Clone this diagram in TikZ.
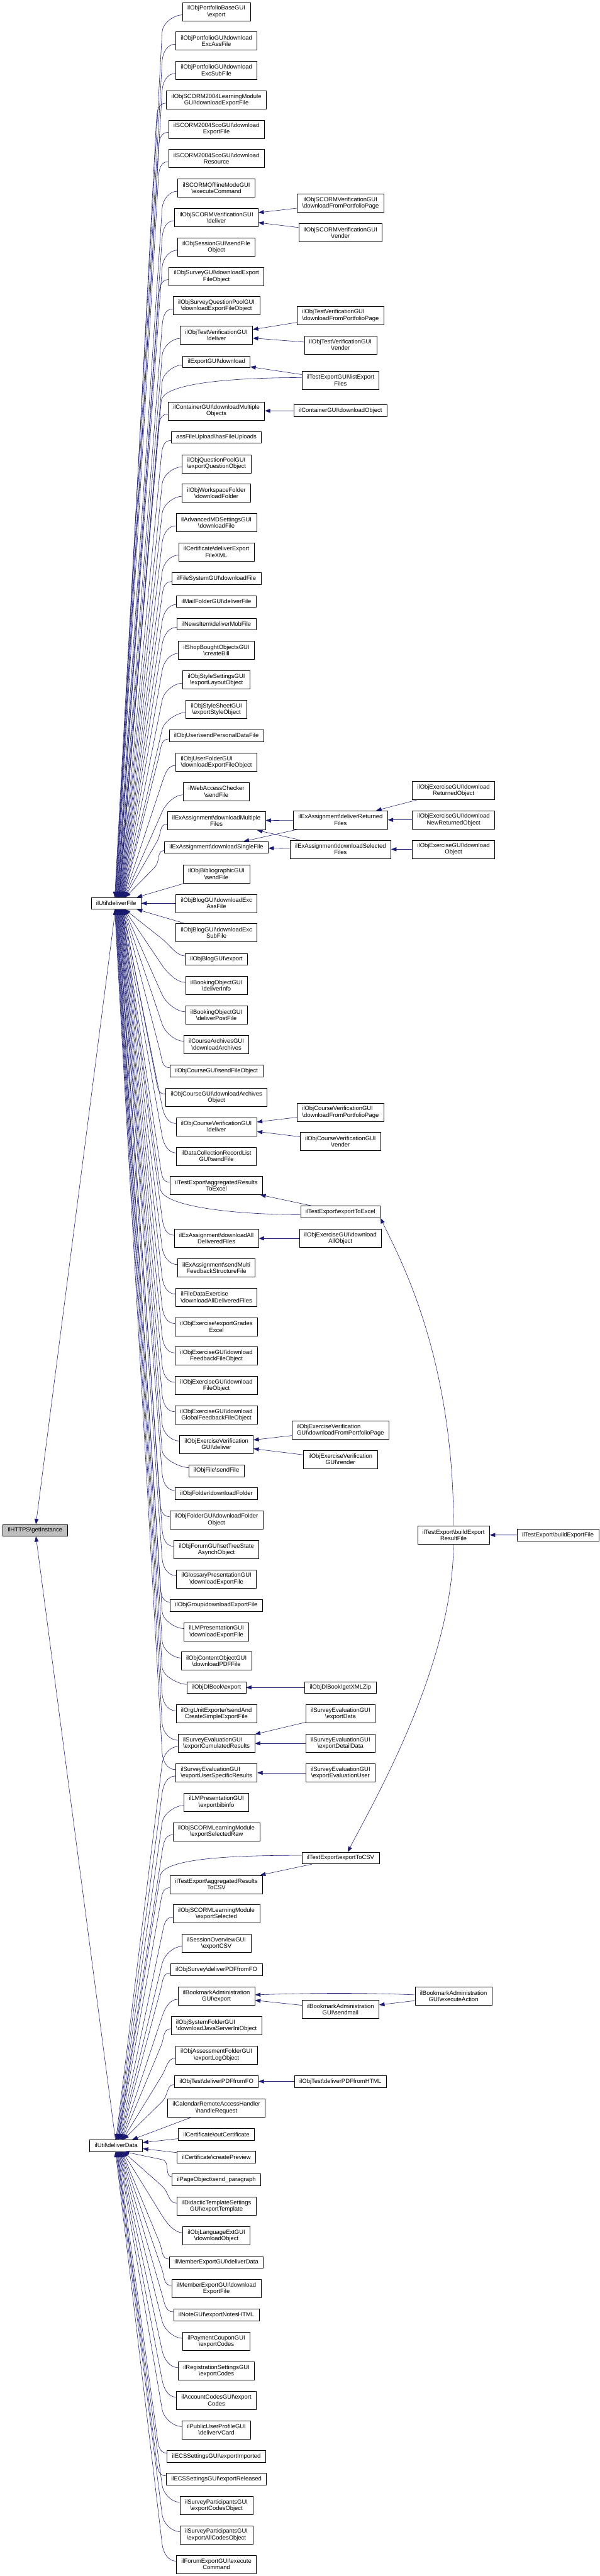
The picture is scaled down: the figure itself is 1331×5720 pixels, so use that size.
\documentclass[tikz,border=0pt]{standalone}
\usepackage{fontspec}
\setmainfont{Liberation Sans}
\usepackage{tikz}
\usetikzlibrary{arrows.meta, calc}

\definecolor{edgeblue}{HTML}{191970}
\definecolor{rootgray}{HTML}{BFBFBF}
\newcommand{\bks}{\textbackslash}

\tikzset{
  fn/.style={draw=black, line width=0.9pt, fill=white, align=center,
    font=\fontsize{13.2}{14.3}\selectfont, inner xsep=11pt, inner ysep=4pt,
    minimum height=26pt},
  two/.style={minimum height=40.5pt},
  lft/.style={align=left},
  call/.style={draw=edgeblue, line width=0.8pt, -{Triangle[length=12pt,width=9pt]}}
}

\begin{document}
\begin{tikzpicture}[x=1pt,y=-1pt]
        \useasboundingbox (0,0) rectangle (1331,5720);

        % ==========================================
        % Root and ilUtil
        % ==========================================
        \node[fn, fill=rootgray] (root) at (78,3398) {ilHTTPS\bks getInstance};
        \node[fn] (dFile) at (258,2005.8) {ilUtil\bks deliverFile};
        \node[fn] (dData) at (258,4764.2) {ilUtil\bks deliverData};

        % ==========================================
        % Direct callers of ilUtil
        % ==========================================
        \node[fn,two] (pfBaseExport) at (480.5,26) {ilObjPortfolioBaseGUI\\\bks export};
        \node[fn,two] (pfExcAss) at (480.5,91) {ilObjPortfolioGUI\bks download\\ExcAssFile};
        \node[fn,two] (pfExcSub) at (480.5,156) {ilObjPortfolioGUI\bks download\\ExcSubFile};
        \node[fn,two] (scorm04LmExport) at (480.5,221.8) {ilObjSCORM2004LearningModule\\GUI\bks downloadExportFile};
        \node[fn,two] (scoExportFile) at (480.5,286.8) {ilSCORM2004ScoGUI\bks download\\ExportFile};
        \node[fn,two] (scoResource) at (480.5,352) {ilSCORM2004ScoGUI\bks download\\Resource};
        \node[fn,two] (scormOffline) at (480.5,417.5) {ilSCORMOfflineModeGUI\\\bks executeCommand};
        \node[fn,two] (scormVerDeliver) at (480.5,483) {ilObjSCORMVerificationGUI\\\bks deliver};
        \node[fn,two] (sessSendFile) at (480.5,548.5) {ilObjSessionGUI\bks sendFile\\Object};
        \node[fn,two] (svyExportFile) at (480.5,613.8) {ilObjSurveyGUI\bks downloadExport\\FileObject};
        \node[fn,two] (spoolExportFile) at (480.5,679) {ilObjSurveyQuestionPoolGUI\\\bks downloadExportFileObject};
        \node[fn,two] (tstVerDeliver) at (480.5,744.5) {ilObjTestVerificationGUI\\\bks deliver};
        \node[fn] (expDownload) at (480.5,803.3) {ilExportGUI\bks download};
        \node[fn,two] (contDownloadMulti) at (480.5,912.5) {ilContainerGUI\bks downloadMultiple\\Objects};
        \node[fn] (assHasUploads) at (480.5,971) {assFileUpload\bks hasFileUploads};
        \node[fn,two] (qplExportQuestion) at (480.5,1029.7) {ilObjQuestionPoolGUI\\\bks exportQuestionObject};
        \node[fn,two] (wspDownloadFolder) at (480.5,1095) {ilObjWorkspaceFolder\\\bks downloadFolder};
        \node[fn,two] (amdDownloadFile) at (480.5,1160.5) {ilAdvancedMDSettingsGUI\\\bks downloadFile};
        \node[fn,two] (certExportXml) at (480.5,1225.7) {ilCertificate\bks deliverExport\\FileXML};
        \node[fn] (fsDownloadFile) at (480.5,1284.3) {ilFileSystemGUI\bks downloadFile};
        \node[fn] (mailDeliverFile) at (480.5,1335.3) {ilMailFolderGUI\bks deliverFile};
        \node[fn] (newsMobFile) at (480.5,1386) {ilNewsItem\bks deliverMobFile};
        \node[fn,two] (shopCreateBill) at (480.5,1444) {ilShopBoughtObjectsGUI\\\bks createBill};
        \node[fn,two] (styleLayout) at (480.5,1509.7) {ilObjStyleSettingsGUI\\\bks exportLayoutObject};
        \node[fn,two] (styleSheet) at (480.5,1575) {ilObjStyleSheetGUI\\\bks exportStyleObject};
        \node[fn] (userPersonalData) at (480.5,1633.7) {ilObjUser\bks sendPersonalDataFile};
        \node[fn,two,lft] (usrfExportFile) at (480.5,1692.5) {ilObjUserFolderGUI\\\bks downloadExportFileObject};
        \node[fn,two] (wacSendFile) at (480.5,1757.7) {ilWebAccessChecker\\\bks sendFile};
        \node[fn,two] (exaDownloadMulti) at (480.5,1822.8) {ilExAssignment\bks downloadMultiple\\Files};
        \node[fn] (exaDownloadSingle) at (480.5,1881.7) {ilExAssignment\bks downloadSingleFile};
        \node[fn,two] (biblSendFile) at (480.5,1940.5) {ilObjBibliographicGUI\\\bks sendFile};
        \node[fn,two] (blogExcAss) at (480.5,2005.8) {ilObjBlogGUI\bks downloadExc\\AssFile};
        \node[fn,two] (blogExcSub) at (480.5,2071) {ilObjBlogGUI\bks downloadExc\\SubFile};
        \node[fn] (blogExport) at (480.5,2129.8) {ilObjBlogGUI\bks export};
        \node[fn,two] (bookDeliverInfo) at (480.5,2188.5) {ilBookingObjectGUI\\\bks deliverInfo};
        \node[fn,two] (bookPostFile) at (480.5,2253.8) {ilBookingObjectGUI\\\bks deliverPostFile};
        \node[fn,two] (crsArchives) at (480.5,2319) {ilCourseArchivesGUI\\\bks downloadArchives};
        \node[fn] (crsSendFile) at (480.5,2377.8) {ilObjCourseGUI\bks sendFileObject};
        \node[fn,two] (crsDownloadArchives) at (480.5,2436.5) {ilObjCourseGUI\bks downloadArchives\\Object};
        \node[fn,two] (crsVerDeliver) at (480.5,2501.7) {ilObjCourseVerificationGUI\\\bks deliver};
        \node[fn,two] (dclSendFile) at (480.5,2567.2) {ilDataCollectionRecordList\\GUI\bks sendFile};
        \node[fn,two] (tstAggrExcel) at (480.5,2632.5) {ilTestExport\bks aggregatedResults\\ToExcel};
        \node[fn,two] (exaDownloadAll) at (480.5,2749.8) {ilExAssignment\bks downloadAll\\DeliveredFiles};
        \node[fn,two] (exaMultiFeedback) at (480.5,2815) {ilExAssignment\bks sendMulti\\FeedbackStructureFile};
        \node[fn,two,lft] (excDownloadAll) at (480.5,2880.5) {ilFileDataExercise\\\bks downloadAllDeliveredFiles};
        \node[fn,two] (excGradesExcel) at (480.5,2946) {ilObjExercise\bks exportGrades\\Excel};
        \node[fn,two] (excFeedbackFile) at (480.5,3011.2) {ilObjExerciseGUI\bks download\\FeedbackFileObject};
        \node[fn,two] (excFileObject) at (480.5,3076.5) {ilObjExerciseGUI\bks download\\FileObject};
        \node[fn,two] (excGlobalFeedback) at (480.5,3141.8) {ilObjExerciseGUI\bks download\\GlobalFeedbackFileObject};
        \node[fn,two] (excVerDeliver) at (480.5,3206.8) {ilObjExerciseVerification\\GUI\bks deliver};
        \node[fn] (fileSendFile) at (480.5,3265.7) {ilObjFile\bks sendFile};
        \node[fn] (fldDownloadFolder) at (480.5,3316.5) {ilObjFolder\bks downloadFolder};
        \node[fn,two] (fldGuiDownload) at (480.5,3374.8) {ilObjFolderGUI\bks downloadFolder\\Object};
        \node[fn,two] (frmTreeState) at (480.5,3440.5) {ilObjForumGUI\bks setTreeState\\AsynchObject};
        \node[fn,two] (gloExportFile) at (480.5,3505.8) {ilGlossaryPresentationGUI\\\bks downloadExportFile};
        \node[fn] (grpExportFile) at (480.5,3564.5) {ilObjGroup\bks downloadExportFile};
        \node[fn,two] (lmExportFile) at (480.5,3623.2) {ilLMPresentationGUI\\\bks downloadExportFile};
        \node[fn,two] (lmPdfFile) at (480.5,3688.5) {ilObjContentObjectGUI\\\bks downloadPDFFile};
        \node[fn] (dlbExport) at (480.5,3747) {ilObjDlBook\bks export};
        \node[fn,two] (orguExport) at (480.5,3805.8) {ilOrgUnitExporter\bks sendAnd\\CreateSimpleExportFile};
        \node[fn,two,lft] (svyCumulated) at (480.5,3871.2) {ilSurveyEvaluationGUI\\\bks exportCumulatedResults};
        \node[fn,two,lft] (svyUserSpecific) at (480.5,3936.5) {ilSurveyEvaluationGUI\\\bks exportUserSpecificResults};
        \node[fn,two] (lmBibinfo) at (480.5,4001.8) {ilLMPresentationGUI\\\bks exportbibinfo};
        \node[fn,two] (scormSelectedRaw) at (480.5,4067) {ilObjSCORMLearningModule\\\bks exportSelectedRaw};
        \node[fn,two] (tstAggrCsv) at (480.5,4184.5) {ilTestExport\bks aggregatedResults\\ToCSV};
        \node[fn,two] (scormSelected) at (480.5,4249.8) {ilObjSCORMLearningModule\\\bks exportSelected};
        \node[fn,two] (sessExportCsv) at (480.5,4315) {ilSessionOverviewGUI\\\bks exportCSV};
        \node[fn] (svyPdf) at (480.5,4373.8) {ilObjSurvey\bks deliverPDFfromFO};
        \node[fn,two] (bmExport) at (480.5,4432.5) {ilBookmarkAdministration\\GUI\bks export};
        \node[fn,two,lft] (sysJavaIni) at (480.5,4497.8) {ilObjSystemFolderGUI\\\bks downloadJavaServerIniObject};
        \node[fn,two] (tafLog) at (480.5,4563) {ilObjAssessmentFolderGUI\\\bks exportLogObject};
        \node[fn] (tstPdf) at (480.5,4621.7) {ilObjTest\bks deliverPDFfromFO};
        \node[fn,two] (calHandle) at (480.5,4680.5) {ilCalendarRemoteAccessHandler\\\bks handleRequest};
        \node[fn] (certOut) at (480.5,4739.2) {ilCertificate\bks outCertificate};
        \node[fn] (certPreview) at (480.5,4790) {ilCertificate\bks createPreview};
        \node[fn] (pgSendPara) at (480.5,4840.3) {ilPageObject\bks send\_paragraph};
        \node[fn,two] (dtplExport) at (480.5,4899.2) {ilDidacticTemplateSettings\\GUI\bks exportTemplate};
        \node[fn,two] (lngDownload) at (480.5,4964.7) {ilObjLanguageExtGUI\\\bks downloadObject};
        \node[fn] (memDeliverData) at (480.5,5023.3) {ilMemberExportGUI\bks deliverData};
        \node[fn,two] (memExportFile) at (480.5,5082) {ilMemberExportGUI\bks download\\ExportFile};
        \node[fn] (noteExport) at (480.5,5140.5) {ilNoteGUI\bks exportNotesHTML};
        \node[fn,two] (cpnExport) at (480.5,5199.2) {ilPaymentCouponGUI\\\bks exportCodes};
        \node[fn,two] (regExport) at (480.5,5264.3) {ilRegistrationSettingsGUI\\\bks exportCodes};
        \node[fn,two] (accExport) at (480.5,5329.8) {ilAccountCodesGUI\bks export\\Codes};
        \node[fn,two] (pubVCard) at (480.5,5395.2) {ilPublicUserProfileGUI\\\bks deliverVCard};
        \node[fn] (ecsImported) at (480.5,5454) {ilECSSettingsGUI\bks exportImported};
        \node[fn] (ecsReleased) at (480.5,5504.7) {ilECSSettingsGUI\bks exportReleased};
        \node[fn,two] (svyCodes) at (480.5,5563.2) {ilSurveyParticipantsGUI\\\bks exportCodesObject};
        \node[fn,two] (svyAllCodes) at (480.5,5628.5) {ilSurveyParticipantsGUI\\\bks exportAllCodesObject};
        \node[fn,two] (frmExport) at (480.5,5694) {ilForumExportGUI\bks execute\\Command};

        % ==========================================
        % Second level callers
        % ==========================================
        \node[fn,two] (scormVerDfpp) at (756,451) {ilObjSCORMVerificationGUI\\\bks downloadFromPortfolioPage};
        \node[fn,two] (scormVerRender) at (756,516.5) {ilObjSCORMVerificationGUI\\\bks render};
        \node[fn,two,lft] (tstVerDfpp) at (756,700.5) {ilObjTestVerificationGUI\\\bks downloadFromPortfolioPage};
        \node[fn,two] (tstVerRender) at (756,765.8) {ilObjTestVerificationGUI\\\bks render};
        \node[fn,two] (tstExpList) at (756,844.5) {ilTestExportGUI\bks listExport\\Files};
        \node[fn] (contDownloadObj) at (756,912) {ilContainerGUI\bks downloadObject};
        \node[fn,two] (exaDeliverReturned) at (756,1820.5) {ilExAssignment\bks deliverReturned\\Files};
        \node[fn,two] (exaDownloadSelected) at (756,1885.8) {ilExAssignment\bks downloadSelected\\Files};
        \node[fn,two,lft] (crsVerDfpp) at (756,2469.8) {ilObjCourseVerificationGUI\\\bks downloadFromPortfolioPage};
        \node[fn,two] (crsVerRender) at (756,2535) {ilObjCourseVerificationGUI\\\bks render};
        \node[fn] (tstToExcel) at (756,2691) {ilTestExport\bks exportToExcel};
        \node[fn,two] (excDownloadAllObj) at (756,2749.8) {ilObjExerciseGUI\bks download\\AllObject};
        \node[fn,two,lft] (excVerDfpp) at (756,3175.2) {ilObjExerciseVerification\\GUI\bks downloadFromPortfolioPage};
        \node[fn,two] (excVerRender) at (756,3240.5) {ilObjExerciseVerification\\GUI\bks render};
        \node[fn] (dlbXmlZip) at (756,3747) {ilObjDlBook\bks getXMLZip};
        \node[fn,two] (svyExportData) at (756,3805.8) {ilSurveyEvaluationGUI\\\bks exportData};
        \node[fn,two] (svyDetail) at (756,3871.2) {ilSurveyEvaluationGUI\\\bks exportDetailData};
        \node[fn,two] (svyEvalUser) at (756,3936.5) {ilSurveyEvaluationGUI\\\bks exportEvaluationUser};
        \node[fn] (tstToCsv) at (756,4125.8) {ilTestExport\bks exportToCSV};
        \node[fn,two] (bmSendmail) at (756,4461.8) {ilBookmarkAdministration\\GUI\bks sendmail};
        \node[fn] (tstPdfHtml) at (756,4621.7) {ilObjTest\bks deliverPDFfromHTML};

        % ==========================================
        % Third and fourth level callers
        % ==========================================
        \node[fn,two] (excReturned) at (1007,1755) {ilObjExerciseGUI\bks download\\ReturnedObject};
        \node[fn,two] (excNewReturned) at (1007,1820.5) {ilObjExerciseGUI\bks download\\NewReturnedObject};
        \node[fn,two] (excDownloadObj) at (1007,1885.8) {ilObjExerciseGUI\bks download\\Object};
        \node[fn,two] (tstBuildResult) at (1007,3408.5) {ilTestExport\bks buildExport\\ResultFile};
        \node[fn,two] (bmExecute) at (1007,4432.5) {ilBookmarkAdministration\\GUI\bks executeAction};
        \node[fn] (tstBuildFile) at (1239,3408.3) {ilTestExport\bks buildExportFile};

        % ==========================================
        % Calls into ilUtil::deliverFile
        % ==========================================
        \foreach \nm [count=\i] in {pfBaseExport,pfExcAss,pfExcSub,scorm04LmExport,scoExportFile,
            scoResource,scormOffline,scormVerDeliver,sessSendFile,svyExportFile,spoolExportFile,
            tstVerDeliver,expDownload,contDownloadMulti,assHasUploads,qplExportQuestion,
            wspDownloadFolder,amdDownloadFile,certExportXml,fsDownloadFile,mailDeliverFile,
            newsMobFile,shopCreateBill,styleLayout,styleSheet,userPersonalData,usrfExportFile,
            wacSendFile,exaDownloadMulti,exaDownloadSingle} {
            \path let \p1=(\nm.west), \n1={min(\x1-22,360)} in
                (\x1,{\y1-7pt}) coordinate (st) (\n1,{\y1-45pt}) coordinate (hk);
            \coordinate (tg) at ($(dFile.north)+(\i*0.8-4,0)$);
            \draw[call] (st) .. controls +(-18,0) and ($(hk)!-20pt!(tg)$) .. (hk) -- (tg);
        }
        \foreach \nm [count=\i] in {blogExport,bookDeliverInfo,bookPostFile,crsArchives,crsSendFile,
            crsDownloadArchives,crsVerDeliver,dclSendFile,tstAggrExcel,exaDownloadAll,
            exaMultiFeedback,excDownloadAll,excGradesExcel,excFeedbackFile,excFileObject,
            excGlobalFeedback,excVerDeliver,fileSendFile,fldDownloadFolder,fldGuiDownload,
            frmTreeState,gloExportFile,grpExportFile,lmExportFile,lmPdfFile,dlbExport,orguExport,
            svyCumulated,svyUserSpecific} {
            \path let \p1=(\nm.west), \n1={min(\x1-22,360)} in
                (\x1,{\y1+7pt}) coordinate (st) (\n1,{\y1+45pt}) coordinate (hk);
            \coordinate (tg) at ($(dFile.south)+(20-\i*0.8,0)$);
            \draw[call] (st) .. controls +(-18,0) and ($(hk)!-20pt!(tg)$) .. (hk) -- (tg);
        }
        \foreach \nm in {biblSendFile,blogExcAss,blogExcSub}
            \draw[call] (\nm) -- (dFile);

        % listExportFiles and exportToExcel reach deliverFile directly
        \coordinate (lfHook) at (358,890);
        \coordinate (lfTarget) at ($(dFile.north)+(6.8,0)$);
        \draw[call] ($(tstExpList.west)+(0,-6)$) .. controls +(-150,0) and ($(lfHook)!-40pt!(lfTarget)$) .. (lfHook) -- (lfTarget);
        \coordinate (xlHook) at (356,2640);
        \coordinate (xlTarget) at ($(dFile.south)+(12.4,0)$);
        \draw[call] ($(tstToExcel.west)+(0,6)$) .. controls +(-145,0) and ($(xlHook)!-40pt!(xlTarget)$) .. (xlHook) -- (xlTarget);

        % ==========================================
        % Calls into ilUtil::deliverData
        % ==========================================
        \foreach \nm [count=\i] in {svyCumulated,svyUserSpecific,lmBibinfo,scormSelectedRaw,
            tstAggrCsv,scormSelected,sessExportCsv,svyPdf,bmExport,sysJavaIni,tafLog,tstPdf} {
            \path let \p1=(\nm.west), \n1={min(\x1-22,360)} in
                (\x1,{\y1-7pt}) coordinate (st) (\n1,{\y1-45pt}) coordinate (hk);
            \coordinate (tg) at ($(dData.north)+(\i*1.5-2,0)$);
            \draw[call] (st) .. controls +(-18,0) and ($(hk)!-20pt!(tg)$) .. (hk) -- (tg);
        }
        \foreach \nm [count=\i] in {pgSendPara,dtplExport,lngDownload,memDeliverData,memExportFile,
            noteExport,cpnExport,regExport,accExport,pubVCard,ecsImported,ecsReleased,svyCodes,
            svyAllCodes,frmExport} {
            \path let \p1=(\nm.west), \n1={min(\x1-22,360)} in
                (\x1,{\y1+7pt}) coordinate (st) (\n1,{\y1+45pt}) coordinate (hk);
            \coordinate (tg) at ($(dData.south)+(18-\i*1.3,0)$);
            \draw[call] (st) .. controls +(-18,0) and ($(hk)!-20pt!(tg)$) .. (hk) -- (tg);
        }
        \foreach \nm in {calHandle,certOut,certPreview}
            \draw[call] (\nm) -- (dData);

        % exportToCSV reaches deliverData directly
        \coordinate (csvHook) at (356,4165);
        \coordinate (csvTarget) at ($(dData.north)+(4.75,0)$);
        \draw[call] ($(tstToCsv.west)+(0,-6)$) .. controls +(-148,0) and ($(csvHook)!-40pt!(csvTarget)$) .. (csvHook) -- (csvTarget);

        % ilUtil into root
        \draw[call] (dFile) -- (root);
        \draw[call] (dData) -- (root);

        % ==========================================
        % Calls between callers
        % ==========================================
        \foreach \src/\dst in {scormVerDfpp/scormVerDeliver, scormVerRender/scormVerDeliver,
            tstVerDfpp/tstVerDeliver, tstVerRender/tstVerDeliver, tstExpList/expDownload,
            contDownloadObj/contDownloadMulti, exaDeliverReturned/exaDownloadMulti,
            exaDeliverReturned/exaDownloadSingle, exaDownloadSelected/exaDownloadSingle,
            exaDownloadSelected/exaDownloadMulti, excReturned/exaDeliverReturned,
            excNewReturned/exaDeliverReturned, excDownloadObj/exaDownloadSelected,
            crsVerDfpp/crsVerDeliver, crsVerRender/crsVerDeliver, tstToExcel/tstAggrExcel,
            excDownloadAllObj/exaDownloadAll, excVerDfpp/excVerDeliver, excVerRender/excVerDeliver,
            dlbXmlZip/dlbExport, svyExportData/svyCumulated, svyDetail/svyCumulated,
            svyEvalUser/svyUserSpecific, tstToCsv/tstAggrCsv, bmExecute/bmSendmail,
            bmSendmail/bmExport, tstPdfHtml/tstPdf, tstBuildFile/tstBuildResult}
            \draw[call] (\src) -- (\dst);

        \draw[call] ($(bmExecute.west)+(0,-3)$) .. controls (820,4425) and (700,4425) .. ($(bmExport.east)+(0,-3)$);
        \draw[call] (tstBuildResult.north) .. controls (1007,3000) and (880,2780) .. (tstToExcel.south east);
        \draw[call] (tstBuildResult.south) .. controls (1005,3700) and (830,4000) .. ($(tstToCsv.north)+(16,0)$);

\end{tikzpicture}
\end{document}
